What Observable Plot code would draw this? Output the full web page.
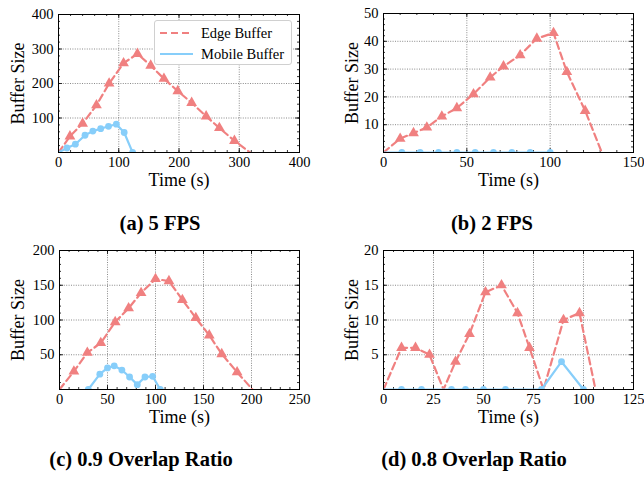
<!DOCTYPE html>
<html><head><meta charset="utf-8">
<script src="https://cdn.jsdelivr.net/npm/d3@7"></script>
<script src="https://cdn.jsdelivr.net/npm/@observablehq/plot@0.6"></script>
<style>
body{margin:0;background:#fff;}
#root{position:relative;width:644px;height:478px;font-family:"Liberation Serif",serif;overflow:hidden;background:#fff}
.panel{position:absolute}
.cap{position:absolute;font-weight:bold;font-size:20.5px;white-space:nowrap;transform:translate(-50%,-50%);color:#000}
.legend{position:absolute;left:154px;top:20px;width:138px;height:45px;background:#fff;border:1px solid #d0d0d0;border-radius:3px;box-sizing:border-box;font-size:14.5px}
.legend .row{position:absolute;left:0;display:flex;align-items:center;white-space:nowrap}
</style></head><body><div id="root"></div><script>
const RED = "#F08080", BLUE = "#87CEFA";
const seriesNames = ["Edge Buffer", "Mobile Buffer"];
const captions = ["(a) 5 FPS", "(b) 2 FPS", "(c) 0.9 Overlap Ratio", "(d) 0.8 Overlap Ratio"];
const xLabel = "Time (s)", yLabel = "Buffer Size";

// (a) 5 FPS
const aEdgeX = [0,19,40,63,84,108,131,153,175,198,221,245,267,292,318];
const aEdgeY = [0,47,84,137,200,259,286,252,214,178,144,105,71,34,0];
const aMobX = [0,14,28,44,57,70,83,96,109,123];
const aMobY = [0,13,24,50,62,69,76,82,58,0];
const aXTicks = [0,100,200,300,400], aYTicks = [100,200,300,400];

// (b) 2 FPS
const bEdgeX = [0,10,18,26,35,44,54,64,72,82,92,102,110,121,131];
const bEdgeY = [0,5,7,9,13,16,21,27,31,35,41,43,29,15,0];
const bMobX = [0,11,22,33,44,55,66,77,88,100];
const bMobY = [0,0,0,0,0,0,0,0,0,0];
const bXTicks = [0,50,100,150], bYTicks = [10,20,30,40,50];

// (c) 0.9 Overlap Ratio
const cEdgeX = [0,15,29,43,58,72,85,100,114,128,142,156,169,185,201];
const cEdgeY = [0,26,53,67,97,117,139,159,156,129,103,78,51,25,0];
const cMobX = [30,42,50,57,65,73,81,89,97,105];
const cMobY = [0,22,31,34,28,18,7,18,19,0];
const cXTicks = [0,50,100,150,200,250], cYTicks = [50,100,150,200];

// (d) 0.8 Overlap Ratio
const dEdgeX = [0,9,16,23,30,36,43,51,59,67,73,80,90,98,106];
const dEdgeY = [0,6,6,5,0,4,8,14,15,11,6,0,10,11,0];
const dMobX = [0,9,19,34,41,50,61,79,89,100];
const dMobY = [0,0,0,0,0,0,0,0,4,0];
const dXTicks = [0,25,50,75,100,125], dYTicks = [5,10,15,20];

function panel(cfg) {
  const {edgeX, edgeY, mobX, mobY, xTicks, yTicks, xMinorStep, yMinorStep,
         width, height, ml, mr, mt, mb, ylabelDx} = cfg;
  const edge = edgeX.map((x, i) => ({x, y: edgeY[i]}));
  const mob = mobX.map((x, i) => ({x, y: mobY[i]}));
  const xDomain = [xTicks[0], xTicks[xTicks.length - 1]];
  const yDomain = [0, yTicks[yTicks.length - 1]];
  const ph = height - mt - mb, pw = width - ml - mr;
  const xMinor = d3.range(xDomain[0], xDomain[1] + 1e-9, xMinorStep);
  const yMinor = d3.range(yDomain[0], yDomain[1] + 1e-9, yMinorStep);
  const yAll = [0, ...yTicks];
  const grid = {stroke: "#444", strokeOpacity: 0.9, strokeWidth: 0.7, strokeDasharray: "1,1.4"};
  const tk = {stroke: "#000", strokeWidth: 0.8};
  const svg = Plot.plot({
    width, height, marginLeft: ml, marginRight: mr, marginTop: mt, marginBottom: mb,
    style: "font-family: 'Liberation Serif', serif; font-size: 14.5px; color: #000; background: transparent;",
    x: {domain: xDomain}, y: {domain: yDomain},
    marks: [
      Plot.gridX(xTicks, grid),
      Plot.gridY(yTicks, grid),
      Plot.tickX(xMinor, {x: d => d, insetTop: ph - 2, ...tk}),
      Plot.tickX(xMinor, {x: d => d, insetBottom: ph - 2, ...tk}),
      Plot.tickY(yMinor, {y: d => d, insetRight: pw - 2, ...tk}),
      Plot.tickY(yMinor, {y: d => d, insetLeft: pw - 2, ...tk}),
      Plot.tickX(xTicks, {x: d => d, insetTop: ph - 4, ...tk}),
      Plot.tickX(xTicks, {x: d => d, insetBottom: ph - 4, ...tk}),
      Plot.tickY(yAll, {y: d => d, insetRight: pw - 4, ...tk}),
      Plot.tickY(yAll, {y: d => d, insetLeft: pw - 4, ...tk}),
      Plot.line(edge, {x: "x", y: "y", stroke: RED, strokeWidth: 2.2, strokeDasharray: "7,4", clip: true}),
      Plot.dot(edge.filter(d => d.y > 0), {x: "x", y: "y", symbol: "triangle", r: 4, fill: RED, stroke: "none", clip: true}),
      Plot.line(mob, {x: "x", y: "y", stroke: BLUE, strokeWidth: 2.2, clip: true}),
      Plot.dot(mob.filter(d => d.x > 0), {x: "x", y: "y", r: 3.4, fill: BLUE, stroke: "none", clip: true}),
      Plot.axisX({ticks: xTicks, tickSize: 0, tickPadding: 4, label: null, fontSize: 14.5}),
      Plot.axisY({ticks: yTicks, tickSize: 0, tickPadding: 5, label: null, fontSize: 14.5}),
      Plot.frame({stroke: "#000", strokeWidth: 1}),
      Plot.text([xLabel], {text: d => d, frameAnchor: "bottom", textAnchor: "middle", lineAnchor: "middle", dy: 28, fontSize: 18}),
      Plot.text([yLabel], {text: d => d, frameAnchor: "left", textAnchor: "middle", lineAnchor: "middle", dx: ylabelDx, rotate: -90, fontSize: 18})
    ]
  });
  svg.setAttribute("font-family", "'Liberation Serif', serif");
  return svg;
}

const root = document.getElementById("root");
function place(el, left, top) {
  const d = document.createElement("div");
  d.className = "panel"; d.style.left = left + "px"; d.style.top = top + "px";
  d.appendChild(el); root.appendChild(d);
}

place(panel({edgeX: aEdgeX, edgeY: aEdgeY, mobX: aMobX, mobY: aMobY, xTicks: aXTicks, yTicks: aYTicks,
  xMinorStep: 20, yMinorStep: 20, width: 320, height: 200, ml: 58, mr: 21, mt: 14, mb: 48, ylabelDx: -40}), 0, 0);
place(panel({edgeX: bEdgeX, edgeY: bEdgeY, mobX: bMobX, mobY: bMobY, xTicks: bXTicks, yTicks: bYTicks,
  xMinorStep: 10, yMinorStep: 2, width: 324, height: 200, ml: 63, mr: 11, mt: 13, mb: 48, ylabelDx: -31}), 320, 0);
place(panel({edgeX: cEdgeX, edgeY: cEdgeY, mobX: cMobX, mobY: cMobY, xTicks: cXTicks, yTicks: cYTicks,
  xMinorStep: 10, yMinorStep: 10, width: 320, height: 200, ml: 59, mr: 21, mt: 14, mb: 47, ylabelDx: -41}), 0, 236);
place(panel({edgeX: dEdgeX, edgeY: dEdgeY, mobX: dMobX, mobY: dMobY, xTicks: dXTicks, yTicks: dYTicks,
  xMinorStep: 5, yMinorStep: 1, width: 324, height: 200, ml: 63, mr: 11, mt: 14, mb: 47, ylabelDx: -31}), 320, 236);

// legend
const lg = document.createElement("div");
lg.className = "legend";
const rows = [
  {name: seriesNames[0], color: RED, dash: "7,4", top: 2},
  {name: seriesNames[1], color: BLUE, dash: null, top: 23}
];
rows.forEach(r => {
  const row = document.createElement("div");
  row.className = "row"; row.style.top = r.top + "px"; row.style.height = "20px";
  row.innerHTML = `<svg width="46" height="20" style="display:block"><line x1="5" x2="38" y1="10" y2="10" stroke="${r.color}" stroke-width="2.2" ${r.dash ? `stroke-dasharray="${r.dash}"` : ""}/></svg><span>${r.name}</span>`;
  lg.appendChild(row);
});
root.appendChild(lg);

// captions
[[captions[0], 160, 223], [captions[1], 492, 223], [captions[2], 141, 459], [captions[3], 474, 459]].forEach(([t, x, y]) => {
  const c = document.createElement("div");
  c.className = "cap"; c.textContent = t; c.style.left = x + "px"; c.style.top = y + "px";
  root.appendChild(c);
});
</script></body></html>
